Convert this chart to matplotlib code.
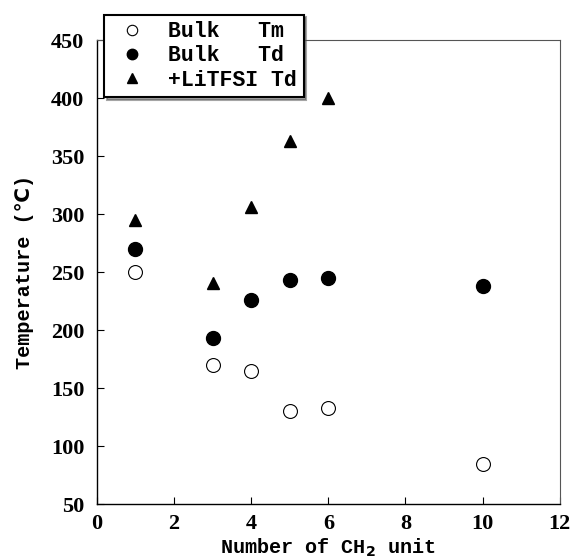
import numpy as np
import matplotlib
matplotlib.use("Agg")
import matplotlib.pyplot as plt

plt.rcParams['font.family'] = ['Liberation Serif', 'DejaVu Serif']
plt.rcParams['font.weight'] = 'bold'

n_tm = [1, 3, 4, 5, 6, 10]
tm = [250, 170, 165, 130, 133, 85]
n_td = [1, 3, 4, 5, 6, 10]
td = [270, 193, 226, 243, 245, 238]
n_li = [1, 3, 4, 5, 6]
td_li = [295, 241, 306, 363, 400]

fig = plt.figure(figsize=(5.77, 5.59), dpi=100)
ax = fig.add_axes([0.168, 0.098, 0.802, 0.830])

ax.plot(n_tm, tm, 'o', mfc='white', mec='black', mew=0.8, ms=10, ls='none', label='Bulk   Tm')
ax.plot(n_td, td, 'o', color='black', ms=10, ls='none', label='Bulk   Td')
ax.plot(n_li, td_li, '^', color='black', ms=9, ls='none', label='+LiTFSI Td')

ax.set_xlim(0, 12)
ax.set_ylim(50, 450)
ax.set_xticks(np.arange(0, 13, 2))
ax.set_yticks(np.arange(50, 451, 50))
ax.tick_params(direction='in', length=5, labelsize=16, width=0.8)
ax.tick_params(axis='x', pad=7)
ax.tick_params(axis='y', pad=9)
for lab in ax.get_xticklabels() + ax.get_yticklabels():
    lab.set_fontweight('bold')
ax.spines['left'].set_linewidth(1.0)
ax.spines['bottom'].set_linewidth(1.0)
ax.spines['top'].set_linewidth(0.8)
ax.spines['right'].set_linewidth(0.8)
ax.spines['top'].set_color('#555555')
ax.spines['right'].set_color('#555555')

ax.set_xlabel('Number of CH$_\\mathbf{2}$ unit', fontsize=14.5, fontweight='bold',
              family=['Liberation Mono', 'DejaVu Sans Mono'], labelpad=2)
ax.set_ylabel('Temperature (\u2103)', fontsize=14.5, fontweight='bold',
              family=['Liberation Mono', 'DejaVu Sans', 'Noto Sans CJK JP'], labelpad=12)

leg = ax.legend(loc='upper left', bbox_to_anchor=(0.001, 1.069), frameon=True, shadow=True,
                fancybox=False, edgecolor='black', framealpha=1, handletextpad=0.7,
                borderpad=0.3, labelspacing=0.15, handlelength=2.0, markerscale=0.75,
                borderaxespad=0.3,
                prop={'family': 'Liberation Mono', 'weight': 'bold', 'size': 15.5})
leg.get_frame().set_linewidth(1.5)

fig.savefig('out.png', dpi=100)
